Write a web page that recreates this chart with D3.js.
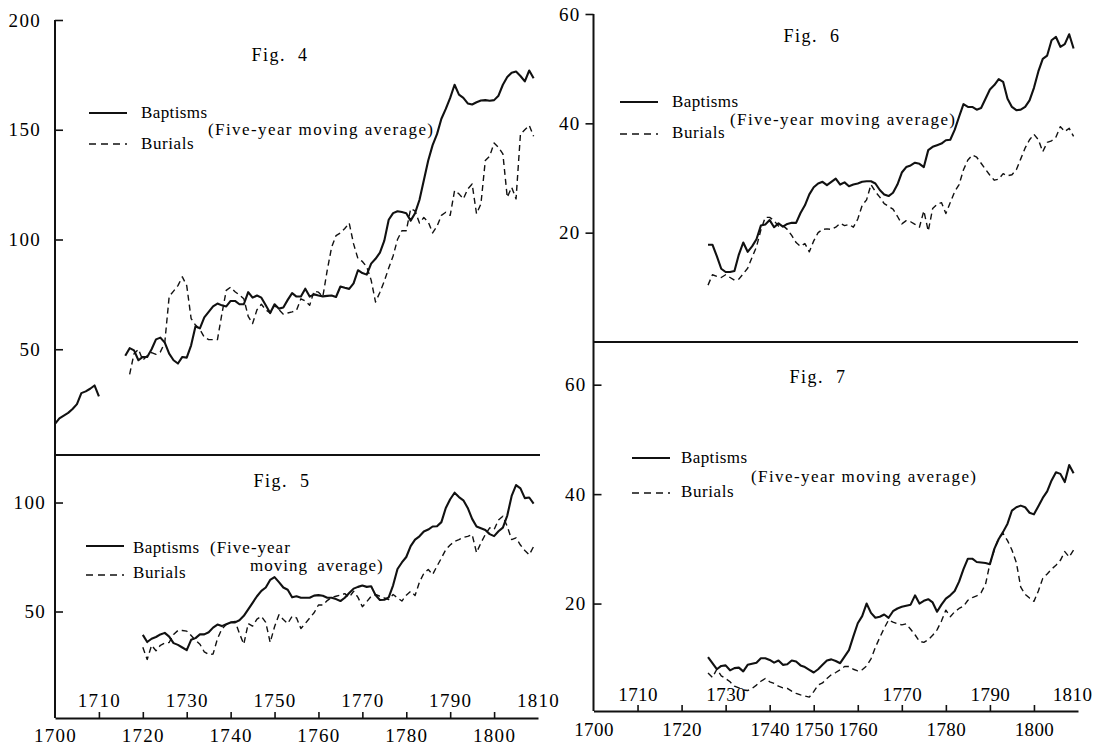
<!DOCTYPE html>
<html>
<head>
<meta charset="utf-8">
<script src="https://cdn.jsdelivr.net/npm/d3@7"></script>
<style>
  body { margin: 0; background: #fff; }
  svg text { fill: #000; }
</style>
</head>
<body>
<svg id="chart" width="1098" height="746"></svg>
<script>

// ---- values (five-year moving averages) ----
var fig4_baptisms_early_start = 1700;
var fig4_baptisms_early = [16, 18.5, 19.8, 21, 22.8, 25, 30, 30.8, 32, 33.5, 28.5];

var fig4_baptisms_start = 1716;
var fig4_baptisms = [
  47, 50.5, 49.5, 45, 46.5, 46.5, 50, 54.5, 55.3, 53,
  48, 45, 43.5, 46.5, 46.2, 51.8, 60.5, 59.5, 64.5, 67,
  69.5, 70.8, 70, 69.5, 72, 72, 70.5, 70.5, 76, 73.5,
  74.5, 73.5, 70, 66.5, 70.5, 68.5, 69, 72.5, 75.6, 74,
  74, 77.6, 74, 75, 74.5, 74.1, 74.3, 74.5, 73.8, 78.6,
  78, 77.5, 80, 86, 84.7, 84, 89, 91.2, 94, 99.5,
  109, 112, 112.9, 112.5, 112, 108.6, 112, 118, 127, 136,
  143, 148, 155, 159.5, 164.5, 170.5, 166, 164.5, 162, 161.5,
  162.5, 163.3, 163.5, 163.2, 163.5, 165.5, 170.5, 174, 176, 176.5,
  174.5, 172, 177, 173.5
];

var fig4_burials_start = 1717;
var fig4_burials = [
  38.6, 48, 50, 45, 47, 48.5, 47.7, 48.8, 53, 74,
  76.5, 79, 83, 79, 64, 61, 59, 55.5, 54.4, 54.4,
  54.4, 66, 76.8, 78.3, 76.2, 74.7, 73, 65, 61.7, 68,
  70.5, 68, 66.5, 70, 68, 66, 66.5, 67, 67.7, 73,
  72, 70, 76.5, 76, 74, 86, 96.5, 101.8, 103, 105,
  107.5, 98, 91.2, 90, 87.5, 81.5, 71.5, 76, 81, 87,
  92.5, 100, 104, 104, 114, 113, 107.5, 110, 108, 103,
  106, 111, 112.4, 111, 122.3, 120.8, 118.5, 123, 125.3, 111.7,
  116.2, 136, 138, 144, 142, 139, 119.2, 123.8, 118.5, 148,
  150, 152, 147
];

var fig5_start = 1720;
var fig5_baptisms = [
  39.3, 36, 37.5, 38.3, 39.5, 40.2, 38.5, 35.5, 34.7, 33.5,
  32.3, 37, 37.8, 39.5, 39.5, 40.5, 42.6, 44, 43.3, 44.2,
  45, 45, 46, 48, 51, 54, 57, 59.5, 61, 64.5,
  65.8, 63.5, 61, 60, 56.5, 57, 56.3, 56.3, 56.3, 57.3,
  57.5, 57.2, 56.3, 56.3, 55.7, 54.8, 56.3, 58.5, 60.5, 61.3,
  61.9, 61.3, 61.6, 57.5, 55.3, 55.4, 56.5, 62, 69.5, 72.5,
  75, 80, 83, 84.5, 86.7, 87.6, 89, 89.1, 91, 97.5,
  101.5, 104.5, 102.5, 101, 97.5, 92.5, 89, 88.2, 87.4, 85.5,
  84.6, 86.8, 88.5, 94, 103, 108, 106.5, 102, 102.3, 99.5
];
var fig5_burials = [
  33.6, 28, 34.5, 32, 34.5, 35.5, 35.8, 39.5, 41.3, 41.3,
  41, 39, 36.8, 35, 31.5, 30.3, 30.5, 37.5, 42, 44,
  45, 45.5, 40, 35, 44.5, 43.3, 46.5, 47.8, 45, 35.8,
  43, 48.5, 46.3, 44.5, 47.8, 47.1, 42.2, 44.5, 47, 49.4,
  53, 53, 55, 56.5, 57, 57.5, 58.2, 56.5, 59.3, 56.5,
  52.2, 54.5, 57, 57.8, 57, 56.2, 55.5, 57.8, 56.3, 54.8,
  57.5, 59.3, 57.3, 63.5, 67.5, 69.3, 67, 70.8, 74.5, 78.4,
  80.5, 82.2, 83, 84, 84.5, 85.3, 77, 81.5, 85.3, 88.4,
  87.6, 92, 93.7, 89, 83, 83.8, 80.5, 78, 76, 79.8
];

var fig6_start = 1726;
var fig6_baptisms = [
  17.8, 17.8, 15.7, 13.4, 12.8, 12.8, 13, 16, 18.2, 16.5,
  17.5, 18.8, 21.3, 21.5, 22.3, 21, 21.7, 21.1, 21.6, 21.8,
  21.8, 23.6, 25, 27, 28.3, 29, 29.3, 28.7, 29.3, 29.9,
  28.8, 29.2, 28.5, 28.8, 29, 29.3, 29.4, 29.4, 29, 27.8,
  27, 26.7, 27.3, 28.8, 31, 32, 32.3, 32.8, 32.6, 32,
  35.1, 35.7, 36, 36.3, 36.9, 37, 38.8, 41.2, 43.5, 43,
  43, 42.5, 42.8, 44.5, 46.2, 47, 48.1, 47.6, 44.5, 43,
  42.4, 42.5, 43, 44.2, 46.5, 49.5, 51.8, 52.4, 55.2, 55.8,
  54, 54.5, 56.3, 53.7
];
var fig6_burials = [
  10.4, 12.3, 12, 11.8, 12.3, 11.8, 11.3, 11.5, 12.5, 13.5,
  15.5, 17.4, 20.5, 22.8, 22.8, 22.2, 21.2, 21.3, 20.6, 19.5,
  18.2, 17.5, 18, 16.5, 18.5, 20, 20.6, 20.7, 20.6, 21,
  21.7, 21.3, 21.5, 21, 22.5, 25, 26, 28.8, 27.5, 26.5,
  25.3, 24.8, 24.3, 23, 21.6, 22.2, 22, 21.5, 21, 24,
  20.3, 24.4, 25.2, 25.5, 23.5, 25.5, 27.5, 28.8, 31.5, 33.3,
  34.2, 33.8, 32.7, 31.6, 30.5, 29.6, 29.8, 30.8, 30.4, 30.6,
  31.5, 33.5, 35.5, 37, 38, 37, 34.8, 36.5, 36.8, 37.5,
  39.4, 38.5, 39.1, 37.6
];

var fig7_start = 1726;
var fig7_baptisms = [
  10.2, 9.1, 8, 8.6, 8.7, 7.8, 8.2, 8.3, 7.6, 8.8,
  9, 9.2, 10, 10, 9.7, 9.2, 9.6, 8.8, 8.9, 9.6,
  9.4, 8.7, 8.4, 7.9, 7.4, 8, 8.8, 9.6, 9.8, 9.5,
  9.1, 10.3, 11.5, 14, 16.4, 17.7, 20, 18.3, 17.4, 17.6,
  18, 17.4, 18.6, 19.1, 19.4, 19.6, 19.8, 21.5, 20, 20.5,
  20.8, 20.2, 18.5, 19.8, 20.9, 21.5, 22.3, 24, 26.3, 28.2,
  28.2, 27.6, 27.5, 27.4, 27.2, 30, 31.8, 33.1, 34.6, 37,
  37.6, 37.9, 37.6, 36.6, 36.3, 37.8, 39.3, 40.5, 42.5, 44,
  43.7, 42.2, 45.3, 43.8
];
var fig7_burials = [
  7.3, 6.5, 8, 6.8, 6.3, 5.7, 4.9, 4.6, 4.2, 4.1,
  4.5, 5.1, 5.8, 6.3, 5.7, 5.4, 4.9, 4.6, 4.5, 4,
  3.6, 3.3, 3.1, 2.9, 3.9, 5.1, 5.5, 6.3, 7, 7.4,
  7.9, 8.5, 8.5, 8, 7.7, 7.9, 8.6, 9.9, 12, 13.8,
  15.5, 17, 16.6, 16.3, 16.1, 16.3, 15.3, 14.3, 13.1, 12.9,
  13.4, 14.2, 15.2, 16.8, 18.8, 17.6, 18.5, 19.1, 19.5, 20.6,
  21.1, 21.4, 22, 23.5, 27.3, 29.8, 32, 32.8, 31.5, 29.8,
  27.5, 23, 21.7, 21, 20.4, 22.3, 24.6, 25.4, 26.3, 27,
  27.9, 29.5, 28.5, 29.8
];

// ---- ticks and labels ----
var year_ticks = [1710, 1720, 1730, 1740, 1750, 1760, 1770, 1780, 1790, 1800];
var left_lower_years = [1700, 1720, 1740, 1760, 1780, 1800];
var left_upper_years = [1710, 1730, 1750, 1770, 1790, 1810];
var right_lower_years = [1700, 1720, 1740, 1750, 1760, 1780, 1800];
var right_upper_years = [1710, 1730, 1770, 1790, 1810];
var fig4_ticks = [50, 100, 150, 200];
var fig5_ticks = [50, 100];
var fig6_ticks = [20, 40, 60];
var fig7_ticks = [20, 40, 60];
var series_names = ["Baptisms", "Burials"];
var note_text = "(Five-year moving average)";

var serif = "'Liberation Serif', 'DejaVu Serif', serif";

// ---- scales ----
var svg = d3.select("#chart");

var x_left = d3.scaleLinear().domain([1700, 1810]).range([55, 538]);
var x_right = d3.scaleLinear().domain([1700, 1810]).range([593.5, 1078]);
var y4 = d3.scaleLinear().domain([0, 200]).range([459, 20]);
var y5 = d3.scaleLinear().domain([0, 121.8]).range([720.5, 455]);
var y6 = d3.scaleLinear().domain([0, 60]).range([342, 14]);
var y7 = d3.scaleLinear().domain([0, 67.8]).range([713, 342]);

var left_base = 718;
var right_base = 711;

function to_points(start, values) {
  return values.map(function(v, i) { return {year: start + i, value: v}; });
}

function draw_series(x, y, points, dashed) {
  var line = d3.line()
    .x(function(d) { return x(d.year); })
    .y(function(d) { return y(d.value); });
  svg.append("path")
    .datum(points)
    .attr("d", line)
    .attr("fill", "none")
    .attr("stroke", "#111")
    .attr("stroke-width", dashed ? 1.4 : 2.1)
    .attr("stroke-linejoin", "round")
    .attr("stroke-dasharray", dashed ? "6,4" : null);
}

function add_text(x, y, str, size, spacing) {
  return svg.append("text")
    .attr("x", x).attr("y", y)
    .attr("font-family", serif)
    .attr("font-size", size)
    .style("letter-spacing", spacing + "px")
    .text(str);
}

function clean_axis(g, size, spacing) {
  g.attr("font-family", serif).attr("font-size", size);
  g.selectAll("text")
    .attr("fill", "#000")
    .style("letter-spacing", spacing + "px");
  g.selectAll("line").attr("stroke", "#111").attr("stroke-width", 1.6);
  g.selectAll(".domain").attr("stroke", "#111").attr("stroke-width", 2);
}

function draw_value_axis(x0, y, ticks, tick_len, padding) {
  var axis = d3.axisLeft(y)
    .tickValues(ticks)
    .tickSize(tick_len)
    .tickSizeOuter(0)
    .tickPadding(padding)
    .tickFormat(d3.format("d"));
  var g = svg.append("g")
    .attr("transform", "translate(" + x0 + ",0)")
    .call(axis);
  g.select(".domain").remove();
  clean_axis(g, 19, 1.3);
}

function draw_year_axis(x, base, lower, upper, pad_lower, pad_upper, spacing) {
  var marks = svg.append("g")
    .attr("transform", "translate(0," + base + ")")
    .call(d3.axisBottom(x).tickValues(year_ticks).tickSize(-6)
      .tickSizeOuter(0).tickFormat(""));
  clean_axis(marks, 19, spacing);

  var low = svg.append("g")
    .attr("transform", "translate(0," + base + ")")
    .call(d3.axisBottom(x).tickValues(lower).tickSize(0)
      .tickPadding(pad_lower).tickFormat(d3.format("d")));
  low.select(".domain").remove();
  clean_axis(low, 19, spacing);

  var up = svg.append("g")
    .attr("transform", "translate(0," + base + ")")
    .call(d3.axisTop(x).tickValues(upper).tickSize(0)
      .tickPadding(pad_upper).tickFormat(d3.format("d")));
  up.select(".domain").remove();
  clean_axis(up, 19, spacing);
  return up;
}

function draw_rule(x1, y1, x2, y2) {
  svg.append("line")
    .attr("x1", x1).attr("y1", y1).attr("x2", x2).attr("y2", y2)
    .attr("stroke", "#111").attr("stroke-width", 2);
}

function draw_title(text, cx, baseline) {
  add_text(cx, baseline, text, 18, 1.5)
    .attr("text-anchor", "middle")
    .style("word-spacing", "6px");
}

function draw_legend(lx, ly_solid, ly_dash, tx, base_solid, base_dash, note) {
  svg.append("line")
    .attr("x1", lx).attr("x2", lx + 38)
    .attr("y1", ly_solid).attr("y2", ly_solid)
    .attr("stroke", "#111").attr("stroke-width", 2.1);
  svg.append("line")
    .attr("x1", lx).attr("x2", lx + 38)
    .attr("y1", ly_dash).attr("y2", ly_dash)
    .attr("stroke", "#111").attr("stroke-width", 1.4)
    .attr("stroke-dasharray", "7,5");
  add_text(tx, base_solid, series_names[0], 17, 0.4);
  add_text(tx, base_dash, series_names[1], 17, 0.6);
  if (note) {
    add_text(note.x, note.y, note_text, 17, 0)
      .attr("textLength", 225).attr("lengthAdjust", "spacing");
  }
}

// ---- left panel: Fig. 4 over Fig. 5 ----
draw_rule(x_left.range()[0], y4.range()[1], x_left.range()[0], left_base);
draw_rule(x_left.range()[0], y5.range()[1], x_left.range()[1] + 2, y5.range()[1]);
draw_value_axis(x_left.range()[0], y4, fig4_ticks, -8, 14);
draw_value_axis(x_left.range()[0], y5, fig5_ticks, -8, 9);
draw_year_axis(x_left, left_base, left_lower_years, left_upper_years, 11, 11, 1.3);

draw_series(x_left, y4, to_points(fig4_baptisms_early_start, fig4_baptisms_early), false);
draw_series(x_left, y4, to_points(fig4_baptisms_start, fig4_baptisms), false);
draw_series(x_left, y4, to_points(fig4_burials_start, fig4_burials), true);
draw_series(x_left, y5, to_points(fig5_start, fig5_baptisms), false);
draw_series(x_left, y5, to_points(fig5_start, fig5_burials), true);

draw_title("Fig. 4", 280, 61);
draw_legend(89, 113, 144, 141, 118, 149, {x: 208, y: 135});
draw_title("Fig. 5", 282, 487);
draw_legend(86, 546, 575, 133, 553, 578, null);
add_text(210, 553, note_text.split(" ")[0], 17, 1);
add_text(250, 571, note_text.split(" ").slice(1).join(" "), 17, 1)
  .style("word-spacing", "4px");

// ---- right panel: Fig. 6 over Fig. 7 ----
draw_rule(x_right.range()[0], y6.range()[1], x_right.range()[0], right_base);
draw_rule(x_right.range()[0], y6(0), x_right.range()[1], y6(0));
draw_value_axis(x_right.range()[0], y6, fig6_ticks, 8, 5);
draw_value_axis(x_right.range()[0], y7, fig7_ticks, -8, 7);
var right_upper = draw_year_axis(x_right, right_base, right_lower_years, right_upper_years, 12, 10, 0.4);
// last label sits against the page edge, nudge it inward as in the print
right_upper.selectAll(".tick text")
  .filter(function(d) { return d === 1810; })
  .attr("dx", -6);

draw_series(x_right, y6, to_points(fig6_start, fig6_baptisms), false);
draw_series(x_right, y6, to_points(fig6_start, fig6_burials), true);
draw_series(x_right, y7, to_points(fig7_start, fig7_baptisms), false);
draw_series(x_right, y7, to_points(fig7_start, fig7_burials), true);

draw_title("Fig. 6", 812, 42);
draw_legend(620, 102, 134, 672, 107, 138, {x: 730, y: 125});
draw_title("Fig. 7", 818, 383);
draw_legend(632, 458, 493, 681, 463, 497, {x: 751, y: 482});

</script>
</body>
</html>
